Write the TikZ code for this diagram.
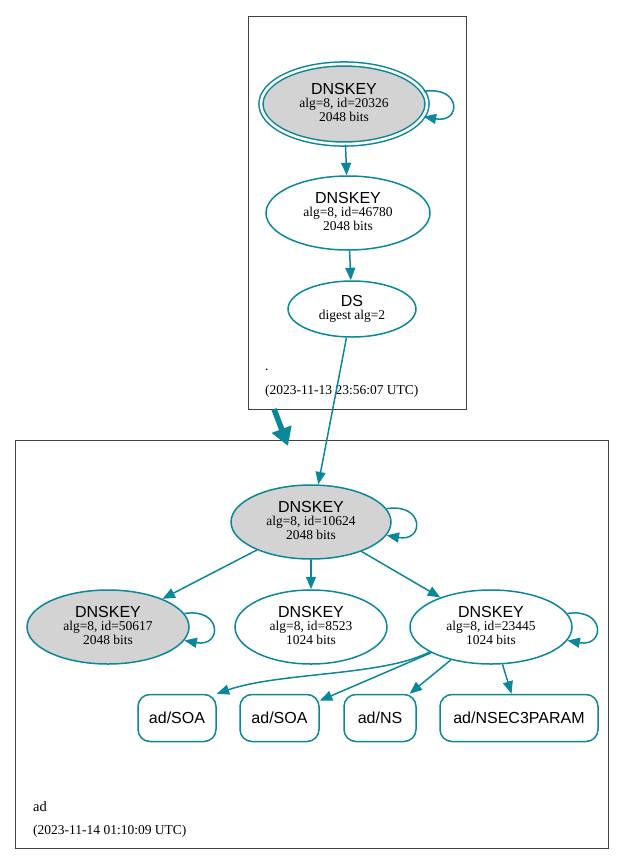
\documentclass[tikz,border=0pt]{standalone}
\usepackage{fontspec}
\setmainfont{Liberation Serif}
\setsansfont{Liberation Sans}
\usetikzlibrary{shapes.geometric,arrows.meta}
\definecolor{edgec}{HTML}{0A879A}
\definecolor{keyfill}{HTML}{D3D3D3}
\newcommand\keytext[2]{{\fontsize{16}{13.5}\selectfont\sffamily DNSKEY}\\alg=8, id=#1\\#2 bits\rule[-4pt]{0pt}{0pt}}
\tikzset{
  key/.style={ellipse, draw=edgec, line width=1.5pt, inner sep=0pt, align=center,
    font=\fontsize{13.5}{13.5}\selectfont},
  ksk/.style={key, fill=keyfill},
  rrset/.style={rectangle, rounded corners=12pt, draw=edgec, line width=1.5pt, inner sep=0pt,
    minimum height=47pt, font=\fontsize{16}{16}\selectfont\sffamily},
  cluster/.style={rectangle, draw=black!75, line width=0.8pt, inner sep=0pt},
  edge/.style={draw=edgec, line width=1.5pt, -{Triangle[length=12.5pt,width=10pt]}},
  lbl/.style={anchor=base west, inner sep=0pt, font=\fontsize{13.5}{13.5}\selectfont},
}
\begin{document}
\begin{tikzpicture}[x=1pt,y=-1pt]
\useasboundingbox (0,0) rectangle (624,865);
% clusters
\node[cluster, minimum width=218pt, minimum height=393pt] (ctop) at (357,212.5) {};
\node[cluster, minimum width=593pt, minimum height=408pt] (cbot) at (311.5,644) {};
\node[lbl] (dotlbl) at (265,370) {.};
\node[lbl] (toptime) at (265,394) {(2023-11-13 23:56:07 UTC)};
\node[lbl, font=\fontsize{14.5}{14.5}\selectfont] (adlbl) at (33,811) {ad};
\node[lbl] (bottime) at (33,834) {(2023-11-14 01:10:09 UTC)};
% top zone
\node[ksk, double=white, double distance=2.6pt, minimum width=166pt, minimum height=80pt] (k20326) at (344,104) {\keytext{20326}{2048}};
\node[key, minimum width=164pt, minimum height=74pt] (k46780) at (348,213) {\keytext{46780}{2048}};
\node[key, minimum width=128pt, minimum height=56pt] (ds) at (352,309) {{\fontsize{16}{13.5}\selectfont\sffamily DS}\\digest alg=2};
% bottom zone
\node[ksk, minimum width=160pt, minimum height=74pt] (k10624) at (311,522) {\keytext{10624}{2048}};
\node[ksk, minimum width=162pt, minimum height=74pt] (k50617) at (108,627) {\keytext{50617}{2048}};
\node[key, minimum width=152pt, minimum height=74pt] (k8523) at (311,627) {\keytext{8523}{1024}};
\node[key, minimum width=162pt, minimum height=74pt] (k23445) at (491,627) {\keytext{23445}{1024}};
\node[rrset, minimum width=78pt] (soa1) at (177,718) {ad/SOA};
\node[rrset, minimum width=79pt] (soa2) at (279.5,718) {ad/SOA};
\node[rrset, minimum width=72pt] (ns) at (380,718) {ad/NS};
\node[rrset, minimum width=158pt] (n3p) at (519,718) {ad/NSEC3PARAM};
% edges
\draw[edge] (k20326) -- (k46780);
\draw[edge] (k46780) -- (ds);
\draw[edge] (ds) -- (k10624);
\draw[edge] (k10624) -- (k50617);
\draw[edge] (k10624) -- (k8523);
\draw[edge] (k10624) -- (k23445);
\draw[edge] (k23445.202) .. controls (385,676) and (280,672) .. (soa1.north east);
\draw[edge] (k23445) -- (soa2);
\draw[edge] (k23445) -- (ns);
\draw[edge] (k23445) -- (n3p);
% self loops
\draw[edge] (k20326.9) .. controls +(38,-6) and +(38,7) .. (k20326.-9);
\draw[edge] (k10624.10) .. controls +(38,-6) and +(38,7) .. (k10624.-10);
\draw[edge] (k50617.10) .. controls +(38,-6) and +(38,7) .. (k50617.-10);
\draw[edge] (k23445.10) .. controls +(38,-6) and +(38,7) .. (k23445.-10);
% delegation arrow
\coordinate (delA) at (274,409);
\coordinate (delB) at (288,446);
\draw[draw=edgec, line width=5.5pt, -{Triangle[length=18pt,width=20pt]}] (delA) -- (delB);
\end{tikzpicture}
\end{document}
